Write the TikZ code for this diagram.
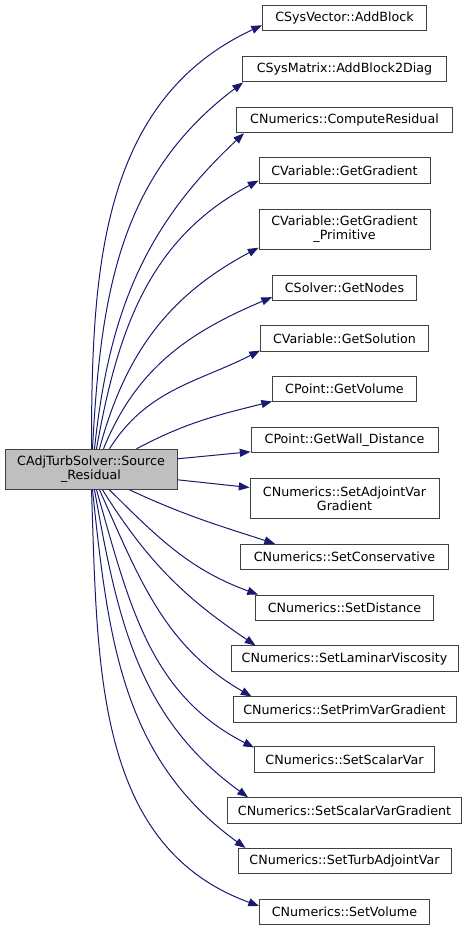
\documentclass[tikz,border=0pt]{standalone}
\usepackage{fontspec}
\setmainfont{DejaVu Sans}
\usetikzlibrary{arrows.meta,calc}
\definecolor{edgeblue}{HTML}{191970}
\definecolor{boxline}{HTML}{404040}
\definecolor{srcfill}{HTML}{BFBFBF}
\begin{document}
\begin{tikzpicture}[x=0.75pt,y=-0.75pt,
  box/.style={draw=boxline, line width=0.75pt, fill=white, inner sep=0pt, align=center,
    font=\fontsize{9.5}{10.5}\selectfont, minimum height=25.5*0.75pt},
  box2/.style={box, minimum height=40*0.75pt},
  bw/.style={minimum width=#1*0.75pt},
  call/.style={draw=edgeblue, line width=0.75pt, -{Triangle[length=8pt,width=6pt]}}]
\useasboundingbox (0,0) rectangle (469,931);

\node[box2, bw=172, fill=srcfill] (src) at (91,469.3) {CAdjTurbSolver::Source\\\_Residual};

\node[box, bw=164] (a1) at (344.5,18) {CSysVector::AddBlock};
\node[box, bw=204] (a2) at (344.5,69.2) {CSysMatrix::AddBlock2Diag};
\node[box, bw=216] (a3) at (344.5,120) {CNumerics::ComputeResidual};
\node[box, bw=171] (a4) at (344.5,170.3) {CVariable::GetGradient};
\node[box2, bw=171] (a5) at (344.5,229.2) {CVariable::GetGradient\\\_Primitive};
\node[box, bw=144] (a6) at (344.5,287.9) {CSolver::GetNodes};
\node[box, bw=168] (a7) at (344.5,338.3) {CVariable::GetSolution};
\node[box, bw=144] (a8) at (344.5,389.2) {CPoint::GetVolume};
\node[box, bw=187] (a9) at (344.5,440) {CPoint::GetWall\_Distance};
\node[box2, bw=189] (a10) at (344.5,498.5) {CNumerics::SetAdjointVar\\Gradient};
\node[box, bw=208] (a11) at (344.5,557) {CNumerics::SetConservative};
\node[box, bw=178] (a12) at (344.5,607.8) {CNumerics::SetDistance};
\node[box, bw=227] (a13) at (344.5,658.7) {CNumerics::SetLaminarViscosity};
\node[box, bw=223] (a14) at (344.5,709.7) {CNumerics::SetPrimVarGradient};
\node[box, bw=180] (a15) at (344.5,759.7) {CNumerics::SetScalarVar};
\node[box, bw=234] (a16) at (344.5,810.5) {CNumerics::SetScalarVarGradient};
\node[box, bw=213] (a17) at (344.5,861.2) {CNumerics::SetTurbAdjointVar};
\node[box, bw=170] (a18) at (344.5,912.2) {CNumerics::SetVolume};

\draw[call] ($(src.north west)+(87,0)$) to[out=90,in=205] ($(a1.south west)+(0,-6)$);
\draw[call] ($(src.north west)+(88,0)$) to[out=87,in=217] ($(a2.south west)+(1,0)$);
\draw[call] ($(src.north west)+(90,0)$) to[out=84,in=223] ($(a3.south west)+(8,0)$);
\draw[call] ($(src.north west)+(92,0)$) to[out=80,in=208] ($(a4.south west)+(0,-3)$);
\draw[call] ($(src.north west)+(95,0)$) to[out=75,in=208] ($(a5.south west)+(0,-2)$);
\draw[call] ($(src.north west)+(99,0)$) to[out=68,in=203] ($(a6.south west)+(0,-4)$);
\draw[call] ($(src.north west)+(105,0)$) to[out=58,in=207] ($(a7.south west)+(0,-1)$);
\draw[call] ($(src.north west)+(132,0)$) to[out=28,in=194] ($(a8.south west)+(0,-1)$);
\draw[call] ($(src.north east)+(0,10)$) -- ($(a9.south west)+(0,-1.5)$);
\draw[call] ($(src.south east)+(0,-10)$) -- ($(a10.north west)+(0,9.5)$);
\draw[call] ($(src.south west)+(125,0)$) to[out=-25,in=162] ($(a11.north west)+(35,0)$);
\draw[call] ($(src.south west)+(105,0)$) to[out=-45,in=160] ($(a12.north west)+(3,0)$);
\draw[call] ($(src.south west)+(98,0)$) to[out=-58,in=146] ($(a13.north west)+(25,0)$);
\draw[call] ($(src.south west)+(95,0)$) to[out=-66,in=150] ($(a14.north west)+(19,0)$);
\draw[call] ($(src.south west)+(92,0)$) to[out=-74,in=153] ($(a15.north west)+(0,1)$);
\draw[call] ($(src.south west)+(90,0)$) to[out=-80,in=144] ($(a16.north west)+(21,0)$);
\draw[call] ($(src.south west)+(88,0)$) to[out=-84,in=144] ($(a17.north west)+(8,0)$);
\draw[call] ($(src.south west)+(87,0)$) to[out=-88,in=160] ($(a18.north west)+(0,7)$);
\end{tikzpicture}
\end{document}
